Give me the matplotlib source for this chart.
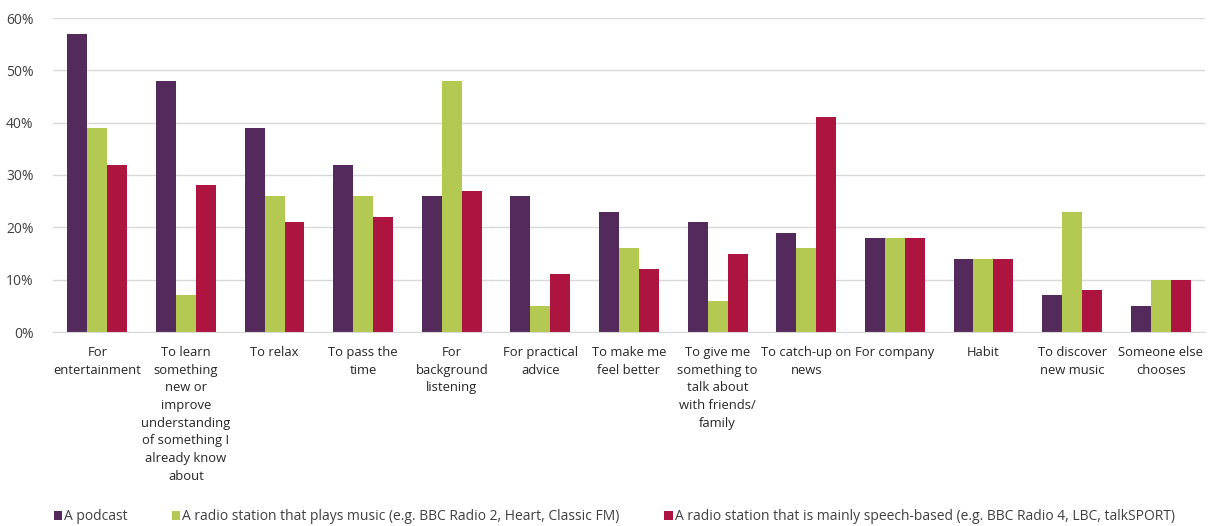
import matplotlib.pyplot as plt
import numpy as np

plt.rcParams['font.family'] = ['Open Sans', 'DejaVu Sans']

categories = [
    "For\nentertainment",
    "To learn\nsomething\nnew or\nimprove\nunderstanding\nof something I\nalready know\nabout",
    "To relax",
    "To pass the\ntime",
    "For\nbackground\nlistening",
    "For practical\nadvice",
    "To make me\nfeel better",
    "To give me\nsomething to\ntalk about\nwith friends/\nfamily",
    "To catch-up on\nnews",
    "For company",
    "Habit",
    "To discover\nnew music",
    "Someone else\nchooses",
]
podcast = [57, 48, 39, 32, 26, 26, 23, 21, 19, 18, 14, 7, 5]
music_radio = [39, 7, 26, 26, 48, 5, 16, 6, 16, 18, 14, 23, 10]
speech_radio = [32, 28, 21, 22, 27, 11, 12, 15, 41, 18, 14, 8, 10]
series_names = [
    "A podcast",
    "A radio station that plays music (e.g. BBC Radio 2, Heart, Classic FM)",
    "A radio station that is mainly speech-based (e.g. BBC Radio 4, LBC, talkSPORT)",
]
colors = ["#532A5B", "#B4C952", "#AE1440"]

fig = plt.figure(figsize=(12.12, 5.26), dpi=100)
ax = fig.add_axes([53 / 1212, 194 / 526, 1152 / 1212, 314 / 526])

x = np.arange(len(categories))
w = 0.225
handles = []
for i, (vals, name, c) in enumerate(zip([podcast, music_radio, speech_radio], series_names, colors)):
    b = ax.bar(x + (i - 1) * w, vals, width=w, color=c, label=name, zorder=3)
    handles.append(b)

ax.set_xlim(-0.5, len(categories) - 0.5)
ax.set_ylim(0, 60)
ax.set_yticks(range(0, 61, 10))
ax.set_yticklabels([f"{v}%" for v in range(0, 61, 10)], fontsize=10, color="#404040")
ax.yaxis.grid(True, color="#D9D9D9", linewidth=1, zorder=0)
ax.set_xticks(x)
ax.set_xticklabels(categories, fontsize=9.4, color="#262626", linespacing=1.47)
ax.tick_params(axis='both', length=0)
ax.tick_params(axis='x', pad=10)
ax.tick_params(axis='y', pad=14)
for s in ['top', 'right', 'left']:
    ax.spines[s].set_visible(False)
ax.spines['bottom'].set_color("#D9D9D9")
ax.spines['bottom'].set_zorder(4)

fig.legend(handles=handles, labels=series_names, loc='center left', bbox_to_anchor=(41 / 1212, 9 / 526),
           ncol=3, frameon=False, fontsize=10, handlelength=0.6, handleheight=0.6,
           handletextpad=0.15, columnspacing=3.2, labelcolor="#404040")

fig.savefig("out.png", dpi=100)
